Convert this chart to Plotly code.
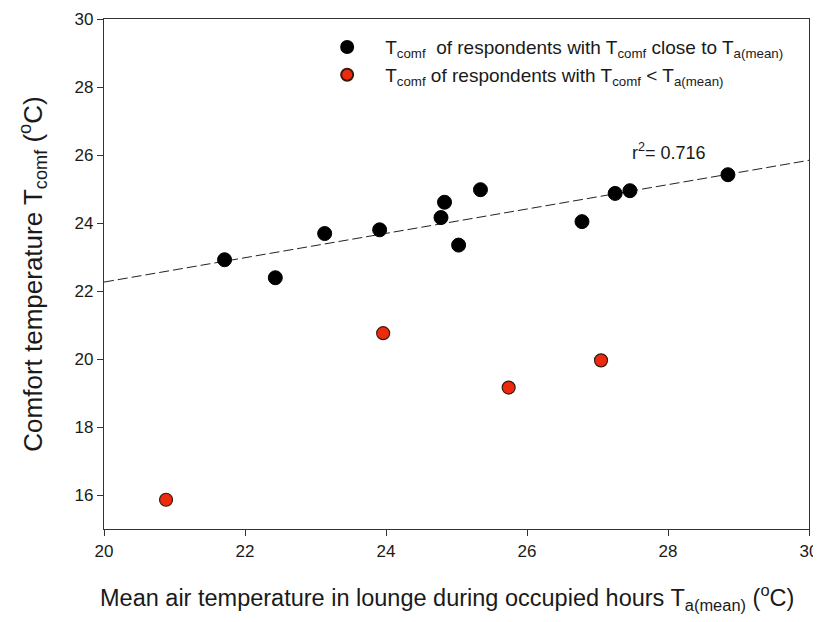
import numpy as np
import plotly.graph_objects as go

# Black series: T_comf close to T_a(mean)
close_x = [21.71, 22.43, 23.13, 23.91, 24.78, 24.83, 25.03, 25.34, 26.78, 27.25, 27.46, 28.85]
close_y = [22.92, 22.39, 23.69, 23.80, 24.16, 24.61, 23.35, 24.98, 24.04, 24.87, 24.95, 25.42]

# Red series: T_comf < T_a(mean)
low_x = [20.88, 23.96, 25.74, 27.05]
low_y = [15.86, 20.76, 19.16, 19.96]

r2_label = "r<sup>2</sup>= 0.716"
x_title = "Mean air temperature in lounge during occupied hours T<sub>a(mean)</sub> (<sup>o</sup>C)"
y_title = "Comfort temperature T<sub>comf</sub> (<sup>o</sup>C)"
x_ticks = [20, 22, 24, 26, 28, 30]
y_ticks = [16, 18, 20, 22, 24, 26, 28, 30]

slope, intercept = np.polyfit(close_x, close_y, 1)
fit_x = [20, 30]
fit_y = [intercept + slope * v for v in fit_x]

FONT = "Arial, Liberation Sans, sans-serif"
TXT = "#1a1a1a"

fig = go.Figure()
fig.add_trace(go.Scatter(
    x=fit_x, y=fit_y, mode="lines",
    line=dict(color="#222222", width=1, dash="10px,4px"),
    showlegend=False, hoverinfo="skip",
))
fig.add_trace(go.Scatter(
    x=close_x, y=close_y, mode="markers",
    marker=dict(size=14, color="black", line=dict(color="black", width=1)),
    name="T<sub>comf</sub>  of respondents with T<sub>comf</sub> close to T<sub>a(mean)</sub>",
    cliponaxis=False,
))
fig.add_trace(go.Scatter(
    x=low_x, y=low_y, mode="markers",
    marker=dict(size=13, color="#ee2a0e", line=dict(color="#3a1a10", width=1.2)),
    name="T<sub>comf</sub> of respondents with T<sub>comf</sub> < T<sub>a(mean)</sub>",
    cliponaxis=False,
))

fig.add_annotation(
    x=28.02, y=26.1, xref="x", yref="y", text=r2_label, showarrow=False,
    font=dict(family=FONT, size=18, color=TXT), xanchor="center", yanchor="middle",
)
# x-axis title (placed as annotation to match the reference's slight left offset)
fig.add_annotation(
    x=0.4865, y=-0.135, xref="paper", yref="paper", text=x_title, showarrow=False,
    font=dict(family=FONT, size=23.5, color=TXT), xanchor="center", yanchor="middle",
)

axis_common = dict(
    showgrid=False, zeroline=False, showline=True, linecolor="#333333", linewidth=1.3,
    mirror=True, ticks="outside", ticklen=6, tickwidth=1, tickcolor="#333333",
    tickfont=dict(family=FONT, size=17, color=TXT), automargin=False,
    ticklabeloverflow="allow",
)

fig.update_xaxes(range=[20, 30], tickvals=x_ticks, **axis_common)
fig.update_yaxes(
    range=[15, 30], tickvals=y_ticks,
    title=dict(text=y_title, font=dict(family=FONT, size=26, color=TXT), standoff=24),
    **axis_common,
)

# page body adds an 8px offset, so the figure is sized/margined to compensate
fig.update_layout(
    width=813, height=606,
    margin=dict(l=96, r=12, t=11, b=85),
    paper_bgcolor="white", plot_bgcolor="white",
    legend=dict(
        x=0.291, y=0.982, xanchor="left", yanchor="top",
        font=dict(family=FONT, size=19, color=TXT),
        bgcolor="rgba(0,0,0,0)", tracegroupgap=0, itemsizing="constant",
        itemwidth=66,
    ),
)

fig.write_html("out.html")
